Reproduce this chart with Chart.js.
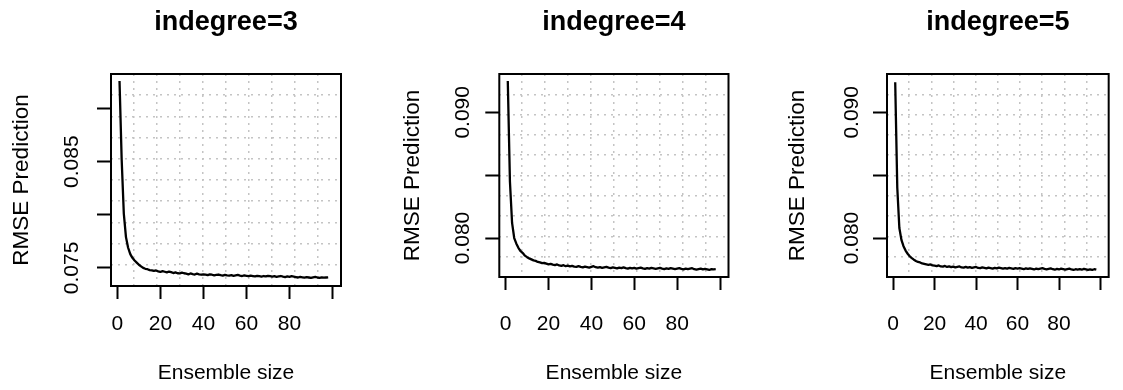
<!DOCTYPE html>
<html>
<head>
<meta charset="utf-8">
<title>RMSE vs ensemble size</title>
<script src="https://cdn.jsdelivr.net/npm/chart.js@4.4.1/dist/chart.umd.min.js"></script>
<style>
  html, body { margin: 0; padding: 0; background: #fff; }
  #wrap { position: relative; width: 1123px; height: 390px; overflow: hidden; }
  #wrap canvas { position: absolute; top: 0; }
</style>
</head>
<body>
<div id="wrap">
  <canvas id="c1" width="374" height="390" style="left:0px"></canvas>
  <canvas id="c2" width="388" height="390" style="left:374px"></canvas>
  <canvas id="c3" width="361" height="390" style="left:762px"></canvas>
</div>
<script>
/* ---- data ------------------------------------------------------ */
const TITLES = ['indegree=3', 'indegree=4', 'indegree=5'];
const ENSEMBLE_SIZES = Array.from({ length: 98 }, (_, i) => i + 1);

const RMSE_IN3 = [
  0.09260, 0.08520, 0.08010, 0.07790, 0.07690, 0.07630, 0.07595, 0.07570, 0.07550, 0.07530,
  0.07515, 0.07500, 0.07492, 0.07488, 0.07480, 0.07478, 0.07472, 0.07476, 0.07468, 0.07462,
  0.07470, 0.07464, 0.07458, 0.07466, 0.07460, 0.07452, 0.07458, 0.07450, 0.07448, 0.07456,
  0.07450, 0.07446, 0.07440, 0.07448, 0.07442, 0.07438, 0.07446, 0.07440, 0.07436, 0.07440,
  0.07438, 0.07432, 0.07440, 0.07436, 0.07430, 0.07434, 0.07438, 0.07432, 0.07428, 0.07434,
  0.07430, 0.07428, 0.07432, 0.07426, 0.07430, 0.07434, 0.07428, 0.07424, 0.07430, 0.07426,
  0.07422, 0.07428, 0.07424, 0.07420, 0.07426, 0.07422, 0.07418, 0.07424, 0.07420, 0.07426,
  0.07422, 0.07418, 0.07422, 0.07416, 0.07420, 0.07424, 0.07418, 0.07414, 0.07420, 0.07416,
  0.07422, 0.07418, 0.07414, 0.07410, 0.07416, 0.07412, 0.07408, 0.07414, 0.07410, 0.07406,
  0.07412, 0.07416, 0.07410, 0.07406, 0.07412, 0.07408, 0.07410, 0.07412
];
const RMSE_IN4 = [
  0.09250, 0.08450, 0.08120, 0.08000, 0.07955, 0.07920, 0.07895, 0.07880, 0.07860, 0.07848,
  0.07838, 0.07830, 0.07822, 0.07818, 0.07810, 0.07806, 0.07800, 0.07802, 0.07796, 0.07790,
  0.07794, 0.07788, 0.07784, 0.07790, 0.07782, 0.07778, 0.07784, 0.07776, 0.07780, 0.07774,
  0.07778, 0.07772, 0.07770, 0.07776, 0.07770, 0.07766, 0.07772, 0.07768, 0.07764, 0.07770,
  0.07776, 0.07768, 0.07764, 0.07768, 0.07762, 0.07766, 0.07770, 0.07764, 0.07760, 0.07766,
  0.07762, 0.07758, 0.07764, 0.07760, 0.07766, 0.07760, 0.07756, 0.07762, 0.07758, 0.07762,
  0.07756, 0.07760, 0.07764, 0.07758, 0.07754, 0.07760, 0.07756, 0.07762, 0.07758, 0.07754,
  0.07758, 0.07762, 0.07756, 0.07752, 0.07758, 0.07754, 0.07760, 0.07756, 0.07752, 0.07756,
  0.07760, 0.07754, 0.07750, 0.07756, 0.07752, 0.07756, 0.07760, 0.07752, 0.07748, 0.07752,
  0.07756, 0.07750, 0.07754, 0.07750, 0.07746, 0.07752, 0.07750, 0.07752
];
const RMSE_IN5 = [
  0.09240, 0.08400, 0.08080, 0.07985, 0.07935, 0.07900, 0.07875, 0.07855, 0.07840, 0.07828,
  0.07818, 0.07810, 0.07806, 0.07798, 0.07794, 0.07790, 0.07786, 0.07790, 0.07782, 0.07780,
  0.07776, 0.07782, 0.07774, 0.07772, 0.07778, 0.07770, 0.07774, 0.07768, 0.07772, 0.07766,
  0.07770, 0.07774, 0.07766, 0.07764, 0.07770, 0.07764, 0.07768, 0.07762, 0.07766, 0.07770,
  0.07762, 0.07760, 0.07766, 0.07762, 0.07758, 0.07764, 0.07760, 0.07756, 0.07762, 0.07758,
  0.07764, 0.07760, 0.07756, 0.07760, 0.07756, 0.07762, 0.07758, 0.07754, 0.07760, 0.07756,
  0.07760, 0.07756, 0.07752, 0.07758, 0.07754, 0.07758, 0.07754, 0.07750, 0.07756, 0.07752,
  0.07756, 0.07760, 0.07754, 0.07750, 0.07754, 0.07758, 0.07752, 0.07748, 0.07754, 0.07750,
  0.07756, 0.07752, 0.07748, 0.07752, 0.07756, 0.07750, 0.07746, 0.07752, 0.07748, 0.07752,
  0.07748, 0.07754, 0.07750, 0.07746, 0.07750, 0.07746, 0.07752, 0.07748
];

const X_TICKS = [0, 20, 40, 60, 80, 100];
const X_LABELS = [0, 20, 40, 60, 80];
const Y_TICKS_IN3 = [0.075, 0.080, 0.085, 0.090];
const Y_LABELS_IN3 = [0.075, 0.085];
const Y_TICKS_IN45 = [0.080, 0.085, 0.090];
const Y_LABELS_IN45 = [0.080, 0.090];
const GRID_CELLS = 10;

/* ---- look ------------------------------------------------------ */
const FONT = "'Liberation Sans', Arial, Helvetica, sans-serif";
const GRID_GREY = '#c4c4c4';
Chart.defaults.font.family = FONT;
Chart.defaults.color = '#000';

// frame of each panel: y-axis width, right pad, plot bottom, y range, text offsets
const PANELS = [
  { id: 'c1', title: TITLES[0], values: RMSE_IN3, yTicks: Y_TICKS_IN3, yLabels: Y_LABELS_IN3,
    yMin: 0.0733, yMax: 0.09325, yw: 111, padRight: 33, bottom: 286, yTickPad: -1.3, yTitlePad: 8.5 },
  { id: 'c2', title: TITLES[1], values: RMSE_IN4, yTicks: Y_TICKS_IN45, yLabels: Y_LABELS_IN45,
    yMin: 0.0769, yMax: 0.09305, yw: 125.3, padRight: 33.5, bottom: 277, yTickPad: -4, yTitlePad: 25 },
  { id: 'c3', title: TITLES[2], values: RMSE_IN5, yTicks: Y_TICKS_IN45, yLabels: Y_LABELS_IN45,
    yMin: 0.0769, yMax: 0.09305, yw: 125, padRight: 5, bottom: 277, yTickPad: -5.3, yTitlePad: 22 }
];
const X_MIN = -2.96, X_MAX = 103.96;
const LABEL_TOP = 312;

const has = (list, v) => list.some(l => Math.abs(l - v) < 1e-9);

function gridTicks(axis) {
  const step = (axis.max - axis.min) / GRID_CELLS;
  const out = [];
  for (let k = 1; k < GRID_CELLS; k++) out.push({ value: axis.min + k * step });
  axis.ticks = out;
}

// R style box around the plot region
const boxPlugin = {
  id: 'plotBox',
  afterDatasetsDraw(chart) {
    const { ctx, chartArea: a } = chart;
    ctx.save();
    ctx.strokeStyle = '#000';
    ctx.lineWidth = 2;
    ctx.strokeRect(a.left, a.top, a.right - a.left, a.bottom - a.top);
    ctx.restore();
  }
};

function initPanel(p) {
  const canvas = document.getElementById(p.id);
  const H = canvas.height;
  new Chart(canvas, {
    type: 'line',
    data: {
      datasets: [{
        data: p.values.map((v, i) => ({ x: ENSEMBLE_SIZES[i], y: v })),
        borderColor: '#000',
        borderWidth: 2.3,
        borderJoinStyle: 'round',
        pointRadius: 0,
        tension: 0,
        fill: false
      }]
    },
    options: {
      responsive: false,
      devicePixelRatio: 1,
      animation: false,
      layout: { padding: { left: 0, right: p.padRight, top: 0, bottom: 0 } },
      plugins: {
        legend: { display: false },
        tooltip: { enabled: false },
        title: {
          display: true,
          text: p.title,
          fullSize: false,
          color: '#000',
          font: { size: 27, weight: 'bold', family: FONT },
          padding: { top: 6.8, bottom: 34.8 }
        }
      },
      scales: {
        gx: {
          type: 'linear', position: 'bottom', weight: 0,
          min: X_MIN, max: X_MAX,
          afterBuildTicks: gridTicks,
          afterFit: s => { s.height = 0; },
          ticks: { display: false },
          grid: { color: GRID_GREY, lineWidth: 1.5, drawTicks: false },
          border: { display: false, dash: [2, 5] }
        },
        x: {
          type: 'linear', position: 'bottom', weight: 1,
          min: X_MIN, max: X_MAX,
          afterBuildTicks: axis => { axis.ticks = X_TICKS.map(v => ({ value: v })); },
          afterFit: s => { s.height = H - p.bottom; },
          grid: { drawOnChartArea: false, drawTicks: true, tickLength: 13, tickWidth: 2, tickColor: '#000' },
          border: { display: false },
          ticks: {
            font: { size: 21 },
            color: '#000',
            maxRotation: 0,
            autoSkip: false,
            padding: LABEL_TOP - p.bottom - 13,
            callback: v => (has(X_LABELS, v) ? String(v) : '')
          },
          title: {
            display: true,
            text: 'Ensemble size',
            color: '#000',
            font: { size: 21 },
            padding: { top: 0, bottom: 4.4 }
          }
        },
        gy: {
          type: 'linear', position: 'left', weight: 0,
          min: p.yMin, max: p.yMax,
          afterBuildTicks: gridTicks,
          afterFit: s => { s.width = 0; },
          ticks: { display: false },
          grid: { color: GRID_GREY, lineWidth: 1.5, drawTicks: false },
          border: { display: false, dash: [2, 5] }
        },
        y: {
          type: 'linear', position: 'left', weight: 1,
          min: p.yMin, max: p.yMax,
          afterBuildTicks: axis => { axis.ticks = p.yTicks.map(v => ({ value: v })); },
          afterFit: s => { s.width = p.yw; },
          grid: { drawOnChartArea: false, drawTicks: true, tickLength: 14, tickWidth: 2, tickColor: '#000' },
          border: { display: false },
          ticks: {
            font: { size: 21 },
            color: '#000',
            minRotation: 90,
            maxRotation: 90,
            crossAlign: 'center',
            autoSkip: false,
            padding: p.yTickPad,
            callback: v => (has(p.yLabels, v) ? v.toFixed(3) : '')
          },
          title: {
            display: true,
            text: 'RMSE Prediction',
            color: '#000',
            font: { size: 22.5 },
            padding: { top: p.yTitlePad, bottom: 0 }
          }
        }
      }
    },
    plugins: [boxPlugin]
  });
}

PANELS.forEach(initPanel);
</script>
</body>
</html>
